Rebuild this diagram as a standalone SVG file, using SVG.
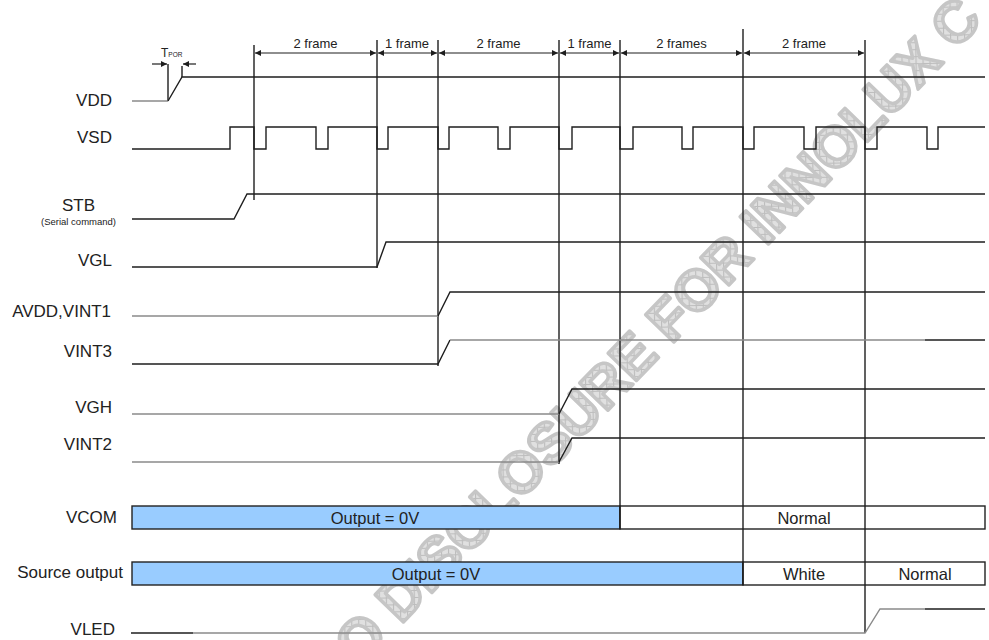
<svg xmlns="http://www.w3.org/2000/svg" width="989" height="640" viewBox="0 0 989 640">
<style>
.lbl{font-family:"Liberation Sans",Arial,sans-serif;font-size:17px;fill:#222;text-anchor:end}
.ctr{font-family:"Liberation Sans",Arial,sans-serif;fill:#222;text-anchor:middle}
.dim{font-size:13px}
.bt{font-size:16.5px}
.sig{fill:none;stroke:#1e1e1e;stroke-width:1.4}
.gry{fill:none;stroke:#8a8a8a;stroke-width:1.4}
.vl{stroke:#1e1e1e;stroke-width:1.4}
.ar{stroke:#1e1e1e;stroke-width:1.2;marker-start:url(#ah);marker-end:url(#ah)}
.bar{stroke:#222;stroke-width:1.4}
.wm{font-family:"Liberation Sans",Arial,sans-serif;font-weight:bold;font-size:57px;fill:url(#hatch);stroke:#c6c6c6;stroke-width:3.5;stroke-linejoin:round}
</style>
<defs>
<marker id="ah" viewBox="0 0 10 10" refX="10" refY="5" markerWidth="7" markerHeight="6" markerUnits="userSpaceOnUse" orient="auto-start-reverse">
<path d="M0,0 L10,5 L0,10 z" fill="#1e1e1e"/>
</marker>
<pattern id="hatch" width="7" height="7" patternUnits="userSpaceOnUse" patternTransform="rotate(45)">
<rect width="7" height="7" fill="#e0e0e0"/>
<path d="M0,0.5 H7 M0.5,0 V7" stroke="#bdbdbd" stroke-width="1.2"/>
</pattern>
</defs>
<rect width="989" height="640" fill="#ffffff"/>
<g id="watermark" transform="translate(359,668) rotate(-46)">
<text class="wm" x="0" y="0">O</text>
<text class="wm" x="60" y="0">DISCLOSURE FOR INNOLUX</text>
<text class="wm" x="858" y="0">C</text>
</g>
<g id="labels">
<text class="lbl" x="112" y="106">VDD</text>
<text class="lbl" x="112" y="143">VSD</text>
<text class="ctr" x="78.5" y="211" font-size="17">STB</text>
<text class="ctr" x="78.5" y="225" font-size="9.5">(Serial command)</text>
<text class="lbl" x="112" y="266">VGL</text>
<text class="lbl" x="111" y="317">AVDD,VINT1</text>
<text class="lbl" x="112" y="357">VINT3</text>
<text class="lbl" x="112" y="413">VGH</text>
<text class="lbl" x="112" y="450">VINT2</text>
<text class="lbl" x="117" y="523">VCOM</text>
<text class="lbl" x="123" y="578">Source output</text>
<text class="lbl" x="115" y="635" font-size="16.5">VLED</text>
</g>
<g id="bars">
<g id="vcom">
<rect x="132" y="506" width="488" height="23" fill="#99ccff" class="bar"/>
<rect x="620" y="506" width="365" height="23" fill="#ffffff" class="bar"/>
<text class="ctr bt" x="375" y="524">Output = 0V</text>
<text class="ctr bt" x="804" y="524">Normal</text>
</g>
<g id="source">
<rect x="132" y="562" width="611" height="23" fill="#99ccff" class="bar"/>
<rect x="743" y="562" width="242" height="23" fill="#ffffff" class="bar"/>
<text class="ctr bt" x="436" y="580">Output = 0V</text>
<text class="ctr bt" x="804" y="580">White</text>
<text class="ctr bt" x="925" y="580">Normal</text>
</g>
</g>
<g id="connectors">
<g id="vlines">
<line class="vl" x1="254" y1="45" x2="254" y2="200"/>
<line class="vl" x1="377" y1="40" x2="377" y2="268"/>
<line class="vl" x1="438" y1="40" x2="438" y2="366"/>
<line class="vl" x1="559" y1="40" x2="559" y2="464"/>
<line class="vl" x1="620" y1="40" x2="620" y2="529"/>
<line class="vl" x1="743" y1="29" x2="743" y2="585"/>
<line class="vl" x1="865" y1="40" x2="865" y2="633"/>
</g>
<g id="dims">
<line class="ar" x1="255" y1="53" x2="376" y2="53"/>
<line class="ar" x1="378" y1="53" x2="437" y2="53"/>
<line class="ar" x1="439" y1="53" x2="558" y2="53"/>
<line class="ar" x1="560" y1="53" x2="619" y2="53"/>
<line class="ar" x1="621" y1="53" x2="742" y2="53"/>
<line class="ar" x1="744" y1="53" x2="864" y2="53"/>
<text class="ctr dim" x="315.5" y="48">2 frame</text>
<text class="ctr dim" x="407" y="48">1 frame</text>
<text class="ctr dim" x="498.5" y="48">2 frame</text>
<text class="ctr dim" x="589.5" y="48">1 frame</text>
<text class="ctr dim" x="681.5" y="48">2 frames</text>
<text class="ctr dim" x="804" y="48">2 frame</text>
</g>
<g id="tpor">
<line class="vl" x1="168" y1="64" x2="168" y2="101"/>
<line class="vl" x1="182" y1="66" x2="182" y2="77"/>
<line stroke="#1e1e1e" stroke-width="1.2" x1="152" y1="64" x2="167" y2="64" marker-end="url(#ah)"/>
<line stroke="#1e1e1e" stroke-width="1.2" x1="196" y1="64" x2="183" y2="64" marker-end="url(#ah)"/>
<text font-family="Liberation Sans,Arial,sans-serif" fill="#222" x="161" y="57" font-size="12">T<tspan font-size="6.5">POR</tspan></text>
</g>
</g>
<g id="signals">
<g id="vdd"><path class="gry" d="M132,101 H168"/><path class="sig" d="M168,101 L182,77 H985"/></g>
<g id="vsd"><path class="sig" d="M132,149 H230 V127 H254 V149 H266 V127 H316 V149 H328 V127 H377 V149 H388 V127 H438 V149 H449 V127 H498 V149 H510 V127 H559 V149 H572 V127 H620 V149 H633 V127 H682 V149 H693 V127 H743 V149 H754 V127 H804 V149 H816 V127 H865 V149 H877 V127 H927 V149 H938 V127 H985"/></g>
<g id="stb"><path class="sig" d="M132,219 H234 L247,194 H985"/></g>
<g id="vgl"><path class="sig" d="M132,267 H377 L386,242 H985"/></g>
<g id="avdd"><path class="gry" d="M132,316 H438"/><path class="sig" d="M438,316 L450,292 H985"/></g>
<g id="vint3"><path class="sig" d="M132,364 H438 L450,340"/><path class="gry" d="M450,340 H925"/><path class="sig" d="M925,340 H985"/></g>
<g id="vgh"><path class="gry" d="M132,414 H559"/><path class="sig" d="M559,414 L572,389 H985"/></g>
<g id="vint2"><path class="gry" d="M132,462 H559"/><path class="sig" d="M559,462 L572,438 H985"/></g>
<g id="vled"><path class="sig" d="M131,633 H193"/><path class="gry" d="M193,633 H865 L880,609 H925"/><path class="sig" d="M925,609 H985"/></g>
</g>
</svg>
